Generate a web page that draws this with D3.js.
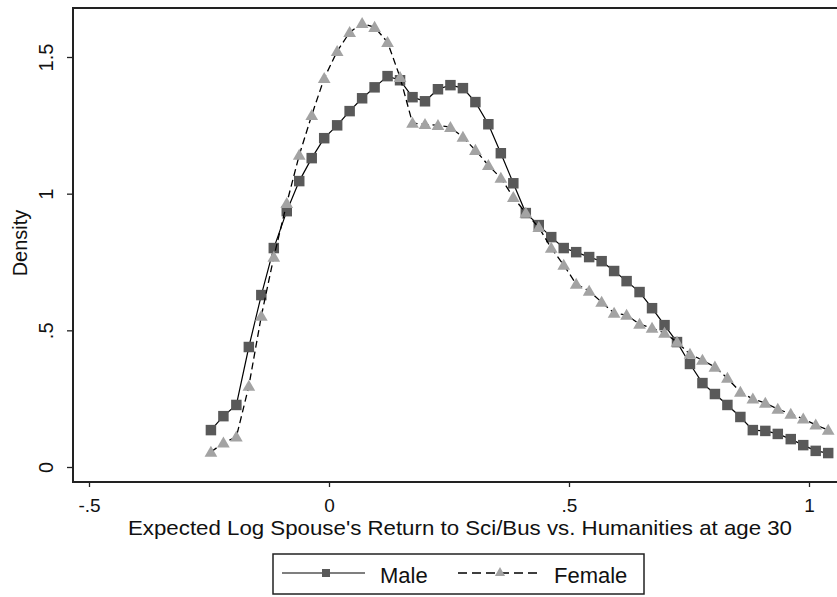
<!DOCTYPE html>
<html>
<head>
<meta charset="utf-8">
<script src="https://cdn.jsdelivr.net/npm/d3@7"></script>
<style>
  body { margin: 0; background: #fff; }
  svg { display: block; }
  text { font-family: "Liberation Sans", Arial, sans-serif; fill: #111; }
</style>
</head>
<body>
<script>
var width = 837, height = 597;

// kernel density grid (50 points, Stata kdensity default)
var xGrid = [-0.246, -0.220, -0.193, -0.167, -0.141, -0.115, -0.088, -0.062, -0.036, -0.010,
              0.017,  0.043,  0.069,  0.095,  0.122,  0.148,  0.174,  0.200,  0.227,  0.253,
              0.279,  0.305,  0.332,  0.358,  0.384,  0.410,  0.437,  0.463,  0.489,  0.515,
              0.542,  0.568,  0.594,  0.620,  0.647,  0.673,  0.699,  0.725,  0.752,  0.778,
              0.804,  0.830,  0.857,  0.883,  0.909,  0.935,  0.962,  0.988,  1.014,  1.040];

var maleDensity = [0.135, 0.186, 0.227, 0.439, 0.629, 0.801, 0.936, 1.046, 1.130, 1.203,
                   1.250, 1.302, 1.349, 1.389, 1.430, 1.415, 1.353, 1.338, 1.382, 1.397,
                   1.386, 1.335, 1.254, 1.148, 1.038, 0.929, 0.885, 0.841, 0.801, 0.786,
                   0.768, 0.753, 0.717, 0.680, 0.640, 0.581, 0.519, 0.457, 0.377, 0.307,
                   0.267, 0.227, 0.183, 0.135, 0.132, 0.121, 0.102, 0.080, 0.059, 0.051];

var femaleDensity = [0.055, 0.088, 0.110, 0.296, 0.552, 0.768, 0.965, 1.141, 1.287, 1.422,
                     1.521, 1.590, 1.623, 1.609, 1.554, 1.426, 1.258, 1.254, 1.250, 1.243,
                     1.207, 1.159, 1.104, 1.057, 0.987, 0.929, 0.877, 0.801, 0.739, 0.669,
                     0.644, 0.603, 0.563, 0.556, 0.523, 0.508, 0.490, 0.457, 0.413, 0.391,
                     0.366, 0.325, 0.274, 0.249, 0.234, 0.212, 0.194, 0.176, 0.154, 0.135];

var xTicks = [-0.5, 0, 0.5, 1];
var xTickLabels = ["-.5", "0", ".5", "1"];
var yTicks = [0, 0.5, 1, 1.5];
var yTickLabels = ["0", ".5", "1", "1.5"];

var seriesNames = ["Male", "Female"];

var svg = d3.select("body").append("svg")
    .attr("width", width)
    .attr("height", height);

var x = d3.scaleLinear().domain([0, 1]).range([329, 809]);
var y = d3.scaleLinear().domain([0, 1.5]).range([467, 57]);

var frame = {left: 73, top: 8, bottom: 482};

// plot region outline (right edge falls outside the picture)
svg.append("rect")
    .attr("x", frame.left)
    .attr("y", frame.top)
    .attr("width", 900)
    .attr("height", frame.bottom - frame.top)
    .attr("fill", "none")
    .attr("stroke", "#222")
    .attr("stroke-width", 2);

// axes
var yAxis = d3.axisLeft(y)
    .tickValues(yTicks)
    .tickSize(6)
    .tickFormat(function(d, i) { return yTickLabels[i]; });

var yG = svg.append("g")
    .attr("transform", "translate(" + frame.left + ",0)")
    .call(yAxis);
yG.select(".domain").remove();
yG.selectAll("line").attr("stroke", "#222").attr("stroke-width", 1.3);
yG.selectAll("text")
    .attr("x", 0).attr("y", 0).attr("dy", 0)
    .attr("transform", "translate(-20,0) rotate(-90)")
    .attr("text-anchor", "middle")
    .attr("fill", "#111")
    .style("font-size", "20px");

var xAxis = d3.axisBottom(x)
    .tickValues(xTicks)
    .tickSize(5)
    .tickFormat(function(d, i) { return xTickLabels[i]; });

var xG = svg.append("g")
    .attr("transform", "translate(0," + frame.bottom + ")")
    .call(xAxis);
xG.select(".domain").remove();
xG.selectAll("line").attr("stroke", "#222").attr("stroke-width", 1.3);
xG.selectAll("text")
    .attr("y", 30).attr("dy", 0)
    .attr("fill", "#111")
    .style("font-size", "19px");

// axis titles
svg.append("text")
    .attr("transform", "translate(27,243) rotate(-90)")
    .attr("text-anchor", "middle")
    .style("font-size", "20px")
    .text("Density");

svg.append("text")
    .attr("x", 460)
    .attr("y", 535)
    .attr("text-anchor", "middle")
    .attr("textLength", 664)
    .attr("lengthAdjust", "spacingAndGlyphs")
    .style("font-size", "21px")
    .text("Expected Log Spouse's Return to Sci/Bus vs. Humanities at age 30");

// series
var maleData = xGrid.map(function(d, i) { return {x: d, y: maleDensity[i]}; });
var femaleData = xGrid.map(function(d, i) { return {x: d, y: femaleDensity[i]}; });

var line = d3.line()
    .x(function(d) { return x(d.x); })
    .y(function(d) { return y(d.y); });

var square = d3.symbol().type(d3.symbolSquare).size(110);
var triangle = d3.symbol().type(d3.symbolTriangle).size(70);

svg.append("path")
    .datum(maleData)
    .attr("d", line)
    .attr("fill", "none")
    .attr("stroke", "#000")
    .attr("stroke-width", 1.2);

svg.selectAll(".male-pt")
    .data(maleData)
    .enter()
    .append("path")
    .attr("class", "male-pt")
    .attr("transform", function(d) { return "translate(" + x(d.x) + "," + y(d.y) + ")"; })
    .attr("d", square)
    .attr("fill", "#595959");

svg.append("path")
    .datum(femaleData)
    .attr("d", line)
    .attr("fill", "none")
    .attr("stroke", "#000")
    .attr("stroke-width", 1.3)
    .attr("stroke-dasharray", "7,4");

svg.selectAll(".female-pt")
    .data(femaleData)
    .enter()
    .append("path")
    .attr("class", "female-pt")
    .attr("transform", function(d) { return "translate(" + x(d.x) + "," + (y(d.y) + 1) + ")"; })
    .attr("d", triangle)
    .attr("fill", "#a3a3a3");

// legend
var legend = svg.append("g");

legend.append("rect")
    .attr("x", 273)
    .attr("y", 554)
    .attr("width", 371)
    .attr("height", 40)
    .attr("fill", "#fff")
    .attr("stroke", "#222")
    .attr("stroke-width", 1.5);

var legendY = 573;

legend.append("line")
    .attr("x1", 282).attr("x2", 365)
    .attr("y1", legendY).attr("y2", legendY)
    .attr("stroke", "#000").attr("stroke-width", 1.2);
legend.append("path")
    .attr("transform", "translate(326," + legendY + ")")
    .attr("d", d3.symbol().type(d3.symbolSquare).size(64))
    .attr("fill", "#595959");
legend.append("text")
    .attr("x", 380)
    .attr("y", 583)
    .style("font-size", "22px")
    .text(seriesNames[0]);

legend.append("line")
    .attr("x1", 458).attr("x2", 542)
    .attr("y1", legendY).attr("y2", legendY)
    .attr("stroke", "#000").attr("stroke-width", 1.3)
    .attr("stroke-dasharray", "9,5");
legend.append("path")
    .attr("transform", "translate(500," + (legendY) + ")")
    .attr("d", d3.symbol().type(d3.symbolTriangle).size(45))
    .attr("fill", "#a3a3a3");
legend.append("text")
    .attr("x", 554)
    .attr("y", 583)
    .style("font-size", "22px")
    .text(seriesNames[1]);
</script>
</body>
</html>
